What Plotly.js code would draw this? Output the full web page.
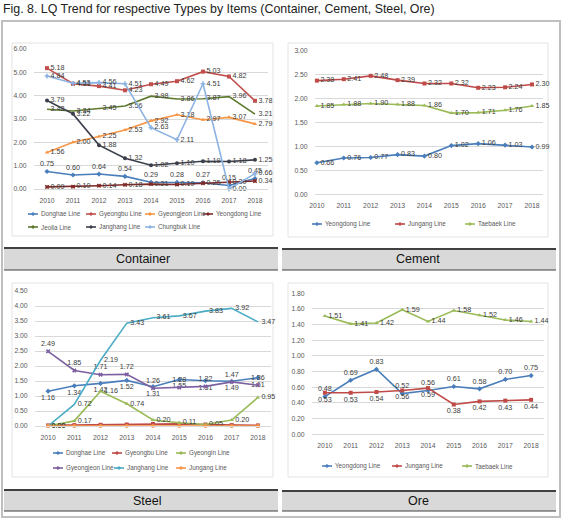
<!DOCTYPE html>
<html><head><meta charset="utf-8">
<script src="https://cdn.plot.ly/plotly-3.0.1.min.js"></script>
<style>html,body{margin:0;padding:0;background:#fff}#chart{width:562px;height:519px}</style>
</head><body><div id="chart"></div>
<script>
const years = ['2010','2011','2012','2013','2014','2015','2016','2017','2018'];

// Container
const containerNames = ['Donghae Line','Gyeongbu Line','Gyeongjeon Line','Yeongdong Line','Jeolla Line','Janghang Line','Chungbuk Line'];
const containerDonghae    = [0.75,0.60,0.64,0.54,0.29,0.28,0.27,0.15,0.45];
const containerGyeongbu   = [5.18,4.51,4.41,4.23,4.49,4.62,5.03,4.82,3.78];
const containerGyeongjeon = [1.56,2.00,2.25,2.53,2.92,3.18,2.97,3.07,2.79];
const containerYeongdong  = [0.09,0.10,0.14,0.18,0.21,0.19,0.25,0.30,0.34];
const containerJeolla     = [3.42,3.34,3.45,3.56,3.98,3.86,3.87,3.96,3.21];
const containerJanghang   = [3.79,3.22,1.88,1.32,1.02,1.10,1.19,1.18,1.25];
const containerChungbuk   = [4.84,4.53,4.56,4.51,2.63,2.11,4.51,0.00,0.66];

// Cement
const cementNames = ['Yeongdong Line','Jungang Line','Taebaek Line'];
const cementYeongdong = [0.66,0.76,0.77,0.83,0.80,1.02,1.06,1.03,0.99];
const cementJungang   = [2.38,2.41,2.48,2.39,2.32,2.32,2.23,2.24,2.30];
const cementTaebaek   = [1.85,1.88,1.90,1.88,1.86,1.70,1.71,1.76,1.85];

// Steel
const steelNames = ['Donghae Line','Gyeongbu Line','Gyeongin Line','Gyeongjeon Line','Janghang Line','Jungang Line'];
const steelDonghae    = [1.16,1.34,1.42,1.52,1.31,1.55,1.51,1.49,1.61];
const steelGyeongbu   = [0.02,0.03,0.04,0.05,0.07,0.07,0.05,0.03,0.02];
const steelGyeongin   = [0.00,0.17,1.16,0.74,0.20,0.11,0.05,0.20,0.95];
const steelGyeongjeon = [2.49,1.85,1.71,1.72,1.26,1.28,1.32,1.47,1.36];
const steelJanghang   = [0.00,0.72,2.19,3.43,3.61,3.67,3.83,3.92,3.47];
const steelJungang    = [0.00,0.00,0.00,0.00,0.00,0.00,0.00,0.00,0.00];

// Ore
const oreNames = ['Yeongdong Line','Jungang Line','Taebaek Line'];
const oreYeongdong = [0.48,0.69,0.83,0.52,0.56,0.61,0.58,0.70,0.75];
const oreJungang   = [0.53,0.53,0.54,0.56,0.59,0.38,0.42,0.43,0.44];
const oreTaebaek   = [1.51,1.41,1.42,1.59,1.44,1.58,1.52,1.46,1.44];

const panelTitles = ['Container','Cement','Steel','Ore'];
const figTitle = 'Fig. 8. LQ Trend for respective Types by Items (Container, Cement, Steel, Ore)';

// ---------- styling / layout ----------
const W = 562, H = 519;
const px = x => x / W, py = y => 1 - y / H;
const NF = '"Liberation Sans", Arial, sans-serif';
const AF = '"Liberation Sans", Arial, sans-serif';
const SYM = ['diamond','square','triangle-up','x','asterisk','circle','cross'];

const traces = [];
function addSeries(name, vals, color, ax, pos, showText, sym){
  traces.push({
    type:'scatter', mode: showText ? 'lines+markers+text' : 'lines+markers',
    x: years, y: vals, name: name,
    xaxis: 'x' + ax, yaxis: 'y' + ax,
    line: {color: color, width: 1.6},
    marker: {color: color, size: 4, symbol: sym},
    text: vals.map(v => v.toFixed(2)), textposition: pos,
    textfont: {family: NF, size: 7.2, color: '#3a3a3a'},
    cliponaxis: false, showlegend: false
  });
}

const cCol = ['#4A7EBB','#C0504D','#F79646','#7F2A28','#5E7A2E','#3B3F4A','#8DB3E2'];
const cVals = [containerDonghae, containerGyeongbu, containerGyeongjeon, containerYeongdong, containerJeolla, containerJanghang, containerChungbuk];
const cPos = ['top center','middle right','middle right','middle right','middle right','middle right','middle right'];
cVals.forEach((v,i) => addSeries(containerNames[i], v, cCol[i], '', cPos[i], true, SYM[i]));

const mCol = ['#4A7EBB','#BE4B48','#9BBB59'];
const mVals = [cementYeongdong, cementJungang, cementTaebaek];
mVals.forEach((v,i) => addSeries(cementNames[i], v, mCol[i], '2', 'middle right', true, SYM[i]));

const sCol = ['#4A7EBB','#BE4B48','#9BBB59','#7D60A0','#4BACC6','#F79646'];
const sVals = [steelDonghae, steelGyeongbu, steelGyeongin, steelGyeongjeon, steelJanghang, steelJungang];
const sPos = ['bottom center','middle right','middle right','top center','middle right','middle right'];
const sShow = [true,false,true,true,true,false];
sVals.forEach((v,i) => addSeries(steelNames[i], v, sCol[i], '3', sPos[i], sShow[i], SYM[i]));

const oVals = [oreYeongdong, oreJungang, oreTaebaek];
const oPos = ['top center','bottom center','middle right'];
oVals.forEach((v,i) => addSeries(oreNames[i], v, mCol[i], '4', oPos[i], true, SYM[i]));

const tickF = {family: NF, size: 6.8, color: '#595959'};
function xax(d0, d1, r, anchor){
  return {domain:[px(d0), px(d1)], range:r, type:'category', anchor:anchor,
    showgrid:false, showline:true, linecolor:'#d9d9d9', linewidth:1, zeroline:false,
    ticks:'outside', ticklen:5, tickcolor:'rgba(0,0,0,0)', tickfont:tickF, fixedrange:true};
}
function yax(y0, y1, r, dt, anchor){
  return {domain:[py(y0), py(y1)], range:r, dtick:dt, tick0:0, tickformat:'.2f', anchor:anchor,
    showgrid:true, gridcolor:'#d9d9d9', gridwidth:1, showline:false, zeroline:false,
    ticks:'outside', ticklen:5, tickcolor:'rgba(0,0,0,0)', tickfont:tickF, fixedrange:true};
}

const shapes = [];
const annotations = [];
function rect(x0,y0,x1,y1,line,lw,fill){
  shapes.push({type:'rect', xref:'paper', yref:'paper', x0:px(x0), x1:px(x1), y0:py(y0), y1:py(y1),
    line:{color:line, width:lw}, fillcolor: fill || 'rgba(0,0,0,0)', layer:'below'});
}
function hline(x0,x1,y,color,w,layer){
  shapes.push({type:'line', xref:'paper', yref:'paper', x0:px(x0), x1:px(x1), y0:py(y), y1:py(y),
    line:{color:color, width:w}, layer: layer || 'above'});
}
// outer frame
rect(2,21,560,517,'#bfbfbf',2);
// chart panels
rect(12,43,273,236,'#e3e3e3',1);
rect(288,43,548,237,'#e3e3e3',1);
rect(12,283,273,477,'#e3e3e3',1);
rect(288,283,548,477,'#e3e3e3',1);
// label bars
const bars = [[4,278,248,270,143,259],[282,556,249,270,418,259],[4,278,490,511,147,501],[282,556,491,511,418,501]];
bars.forEach((b,i) => {
  rect(b[0],b[2],b[1],b[3],'rgba(0,0,0,0)',0,'#d9d9d9');
  hline(b[0],b[1],b[2],'#404040',2);
  hline(b[0],b[1],b[3],'#404040',1.2);
  annotations.push({text:panelTitles[i], xref:'paper', yref:'paper', x:px(b[4]), y:py(b[5]),
    xanchor:'center', yanchor:'middle', showarrow:false, font:{family:AF, size:12.5, color:'#111'}});
});
// title
annotations.push({text:figTitle, xref:'paper', yref:'paper', x:px(1), y:py(9), xanchor:'left', yanchor:'middle',
  showarrow:false, font:{family:NF, size:12.4, color:'#222'}});

// legends (positions of entries)
function legend(names, colors, xs, ys){
  names.forEach((n,i) => {
    const x = xs[i], y = ys[i];
    hline(x, x+10, y, colors[i], 1.6);
    shapes.push({type:'circle', xref:'paper', yref:'paper', x0:px(x+3.8), x1:px(x+6.2), y0:py(y+1.2), y1:py(y-1.2),
      line:{color:colors[i], width:1}, fillcolor:colors[i]});
    annotations.push({text:n, xref:'paper', yref:'paper', x:px(x+10.5), y:py(y), xanchor:'left', yanchor:'middle',
      showarrow:false, font:{family:NF, size:6.3, color:'#595959'}});
  });
}
legend(containerNames, cCol, [28,86,145,203,28,86,145], [214,214,214,214,227,227,227]);
legend(cementNames, mCol, [312,395,465], [224,224,224]);
legend(steelNames, sCol, [53,112,176,53,114,176], [453,453,453,468,468,468]);
legend(oreNames, mCol, [322,392,462], [466,466,466]);

const layout = {
  width: W, height: H, margin:{l:0,r:0,t:0,b:0},
  paper_bgcolor:'#fff', plot_bgcolor:'rgba(0,0,0,0)', showlegend:false,
  xaxis:  xax(34, 268, [-0.5, 8.5], 'y'),
  yaxis:  yax(189, 49, [0, 6], 1, 'x'),
  xaxis2: xax(315, 543, [-0.07, 8.41], 'y2'),
  yaxis2: yax(194.3, 51, [0, 3], 0.5, 'x2'),
  xaxis3: xax(35, 271, [-0.5, 8.5], 'y3'),
  yaxis3: yax(426, 291, [0, 4.5], 0.5, 'x3'),
  xaxis4: xax(312, 544, [-0.5, 8.5], 'y4'),
  yaxis4: yax(434.3, 293.3, [0, 1.8], 0.2, 'x4'),
  shapes: shapes, annotations: annotations
};
Plotly.newPlot('chart', traces, layout, {displayModeBar:false, staticPlot:true});
</script></body></html>
